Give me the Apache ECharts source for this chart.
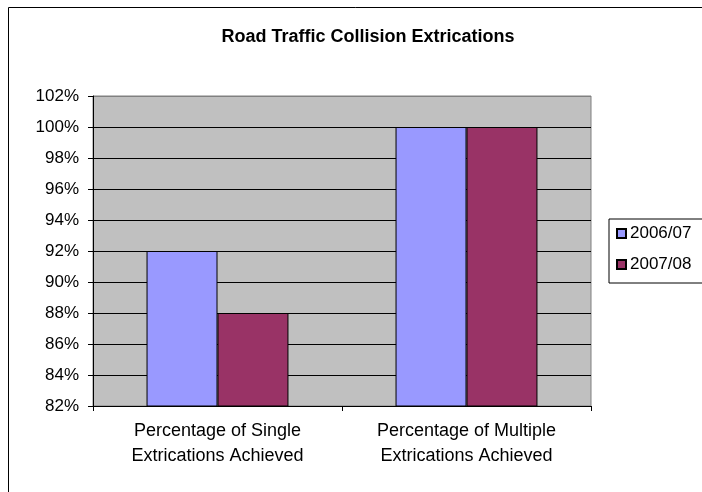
<!DOCTYPE html>
<html><head><meta charset="utf-8">
<script src="https://cdn.jsdelivr.net/npm/echarts@6/dist/echarts.min.js"></script>
<style>html,body{margin:0;padding:0;background:#fff}#c{width:702px;height:492px}</style>
</head><body><div id="c"></div>
<script>
const categories = ['Percentage of Single\nExtrications Achieved', 'Percentage of Multiple\nExtrications Achieved'];
const series2006 = [92, 100];
const series2007 = [88, 100];
const seriesNames = ['2006/07', '2007/08'];
const yMin = 82, yMax = 102, yStep = 2;

const nLines = Math.round((yMax - yMin) / yStep) + 1;
const splitColors = [];
for (let i = 0; i < nLines; i++) splitColors.push(i === nLines - 1 ? '#808080' : '#000');

const chart = echarts.init(document.getElementById('c'), null, {renderer: 'canvas'});
const font = 'Liberation Sans, Arial, sans-serif';
chart.setOption({
  animation: false,
  backgroundColor: '#fff',
  textStyle: {fontFamily: font},
  graphic: [{type: 'rect', shape: {x: 8.5, y: 7.5, width: 760, height: 560}, style: {fill: 'none', stroke: '#000', lineWidth: 1}, silent: true, z: -1}],
  title: {text: 'Road Traffic Collision Extrications', left: 363, top: 23, textAlign: 'center',
    textStyle: {fontFamily: font, fontSize: 18, fontWeight: 'bold', color: '#000'}},
  legend: {orient: 'vertical', left: 609, top: 219, itemWidth: 9, itemHeight: 9, itemGap: 14,
    padding: [6, 20, 10, 7], borderColor: '#000', borderWidth: 1, borderRadius: 0, icon: 'rect',
    textStyle: {fontFamily: font, fontSize: 17, color: '#000', padding: [0, 0, 0, -1]},
    data: seriesNames},
  grid: {left: 93, right: 111, top: 96, bottom: 86, show: true, backgroundColor: '#C0C0C0', borderColor: '#808080', borderWidth: 1},
  xAxis: {type: 'category', data: categories,
    axisLine: {lineStyle: {color: '#000', width: 1}},
    axisTick: {show: true, length: 5, lineStyle: {color: '#000'}},
    axisLabel: {fontFamily: font, fontSize: 18, color: '#000', lineHeight: 25, margin: 13}},
  yAxis: {type: 'value', min: yMin, max: yMax, interval: yStep,
    axisLine: {show: true, lineStyle: {color: '#000'}},
    axisTick: {show: true, length: 5, lineStyle: {color: '#000'}},
    splitLine: {lineStyle: {color: splitColors, width: 1}},
    axisLabel: {formatter: '{value}%', fontFamily: font, fontSize: 17, color: '#000', margin: 14}},
  series: [
    {name: seriesNames[0], type: 'bar', data: series2006, barGap: '0%', barCategoryGap: '43%',
      itemStyle: {color: '#9999FF', borderColor: '#000', borderWidth: 1}},
    {name: seriesNames[1], type: 'bar', data: series2007, barGap: '0%', barCategoryGap: '43%',
      itemStyle: {color: '#993366', borderColor: '#000', borderWidth: 1}}
  ]
});
</script></body></html>
